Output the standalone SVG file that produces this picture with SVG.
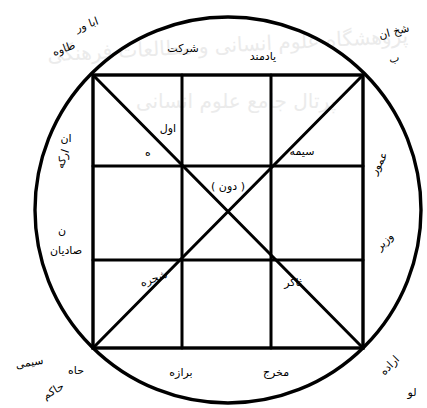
<svg xmlns="http://www.w3.org/2000/svg" width="427" height="408" viewBox="0 0 427 408">
<style>
.ln{stroke:#000;fill:none;stroke-linecap:round}
.thick{stroke-width:3.4}
.mid{stroke-width:3}
.t{font-family:"DejaVu Sans","Noto Sans",sans-serif;fill:#000;font-size:11px;text-anchor:middle}
.wm{font-family:"DejaVu Sans","Noto Sans",sans-serif;fill:#ebebeb;font-size:20px;text-anchor:middle}
</style>
<rect width="427" height="408" fill="#fff"/>
<g id="watermark">
<text class="wm" x="228" y="52" transform="rotate(-3 228 52)">پژوهشگاه علوم انسانی و مطالعات فرهنگی</text>
<text class="wm" x="236" y="108" font-size="24">پرتال جامع علوم انسانی</text>
</g>
<g id="figure">
<circle class="ln thick" cx="228" cy="210" r="193"/>
<rect class="ln thick" x="93" y="75" width="270" height="273"/>
<line class="ln mid" x1="182" y1="75" x2="182" y2="348"/>
<line class="ln mid" x1="271" y1="75" x2="271" y2="348"/>
<line class="ln mid" x1="93" y1="166" x2="363" y2="166"/>
<line class="ln mid" x1="93" y1="260" x2="363" y2="260"/>
<line class="ln mid" x1="93" y1="75" x2="363" y2="348"/>
<line class="ln mid" x1="363" y1="75" x2="93" y2="348"/>
</g>
<g id="labels">
<text class="t" x="88" y="28" transform="rotate(-20 88 28)">ابا ور</text>
<text class="t" x="65" y="52" transform="rotate(-20 65 52)">طاوه</text>
<text class="t" x="183" y="52" font-size="13">شرکت</text>
<text class="t" x="263" y="60" font-size="9">یادمند</text>
<text class="t" x="395" y="35" font-size="13" transform="rotate(-15 395 35)">شخ ان</text>
<text class="t" x="395" y="62" font-size="13" transform="rotate(-15 395 62)">ب</text>
<text class="t" x="168" y="132">اول</text>
<text class="t" x="148" y="156" font-size="8">ه</text>
<text class="t" x="302" y="155" font-size="10">سیمه</text>
<text class="t" x="382" y="165" transform="rotate(-60 382 165)">عمور</text>
<text class="t" x="387" y="244" transform="rotate(-45 387 244)">وزیر</text>
<text class="t" x="228" y="190" font-size="10">( دون )</text>
<text class="t" x="66" y="142">ان</text>
<text class="t" x="66" y="160" transform="rotate(-70 66 160)">ارکه</text>
<text class="t" x="62" y="234">ن</text>
<text class="t" x="66" y="254">صادیان</text>
<text class="t" x="155" y="282" transform="rotate(-20 155 282)">شجره</text>
<text class="t" x="293" y="286" font-size="13">ثاکر</text>
<text class="t" x="181" y="376">برازه</text>
<text class="t" x="276" y="376" font-size="13">مخرج</text>
<text class="t" x="30" y="366" transform="rotate(-10 30 366)">سیمی</text>
<text class="t" x="76" y="374">حاه</text>
<text class="t" x="55" y="394" transform="rotate(-30 55 394)">حاکم</text>
<text class="t" x="392" y="368" transform="rotate(-45 392 368)">اراده</text>
<text class="t" x="412" y="396">لو</text>
</g>
</svg>
